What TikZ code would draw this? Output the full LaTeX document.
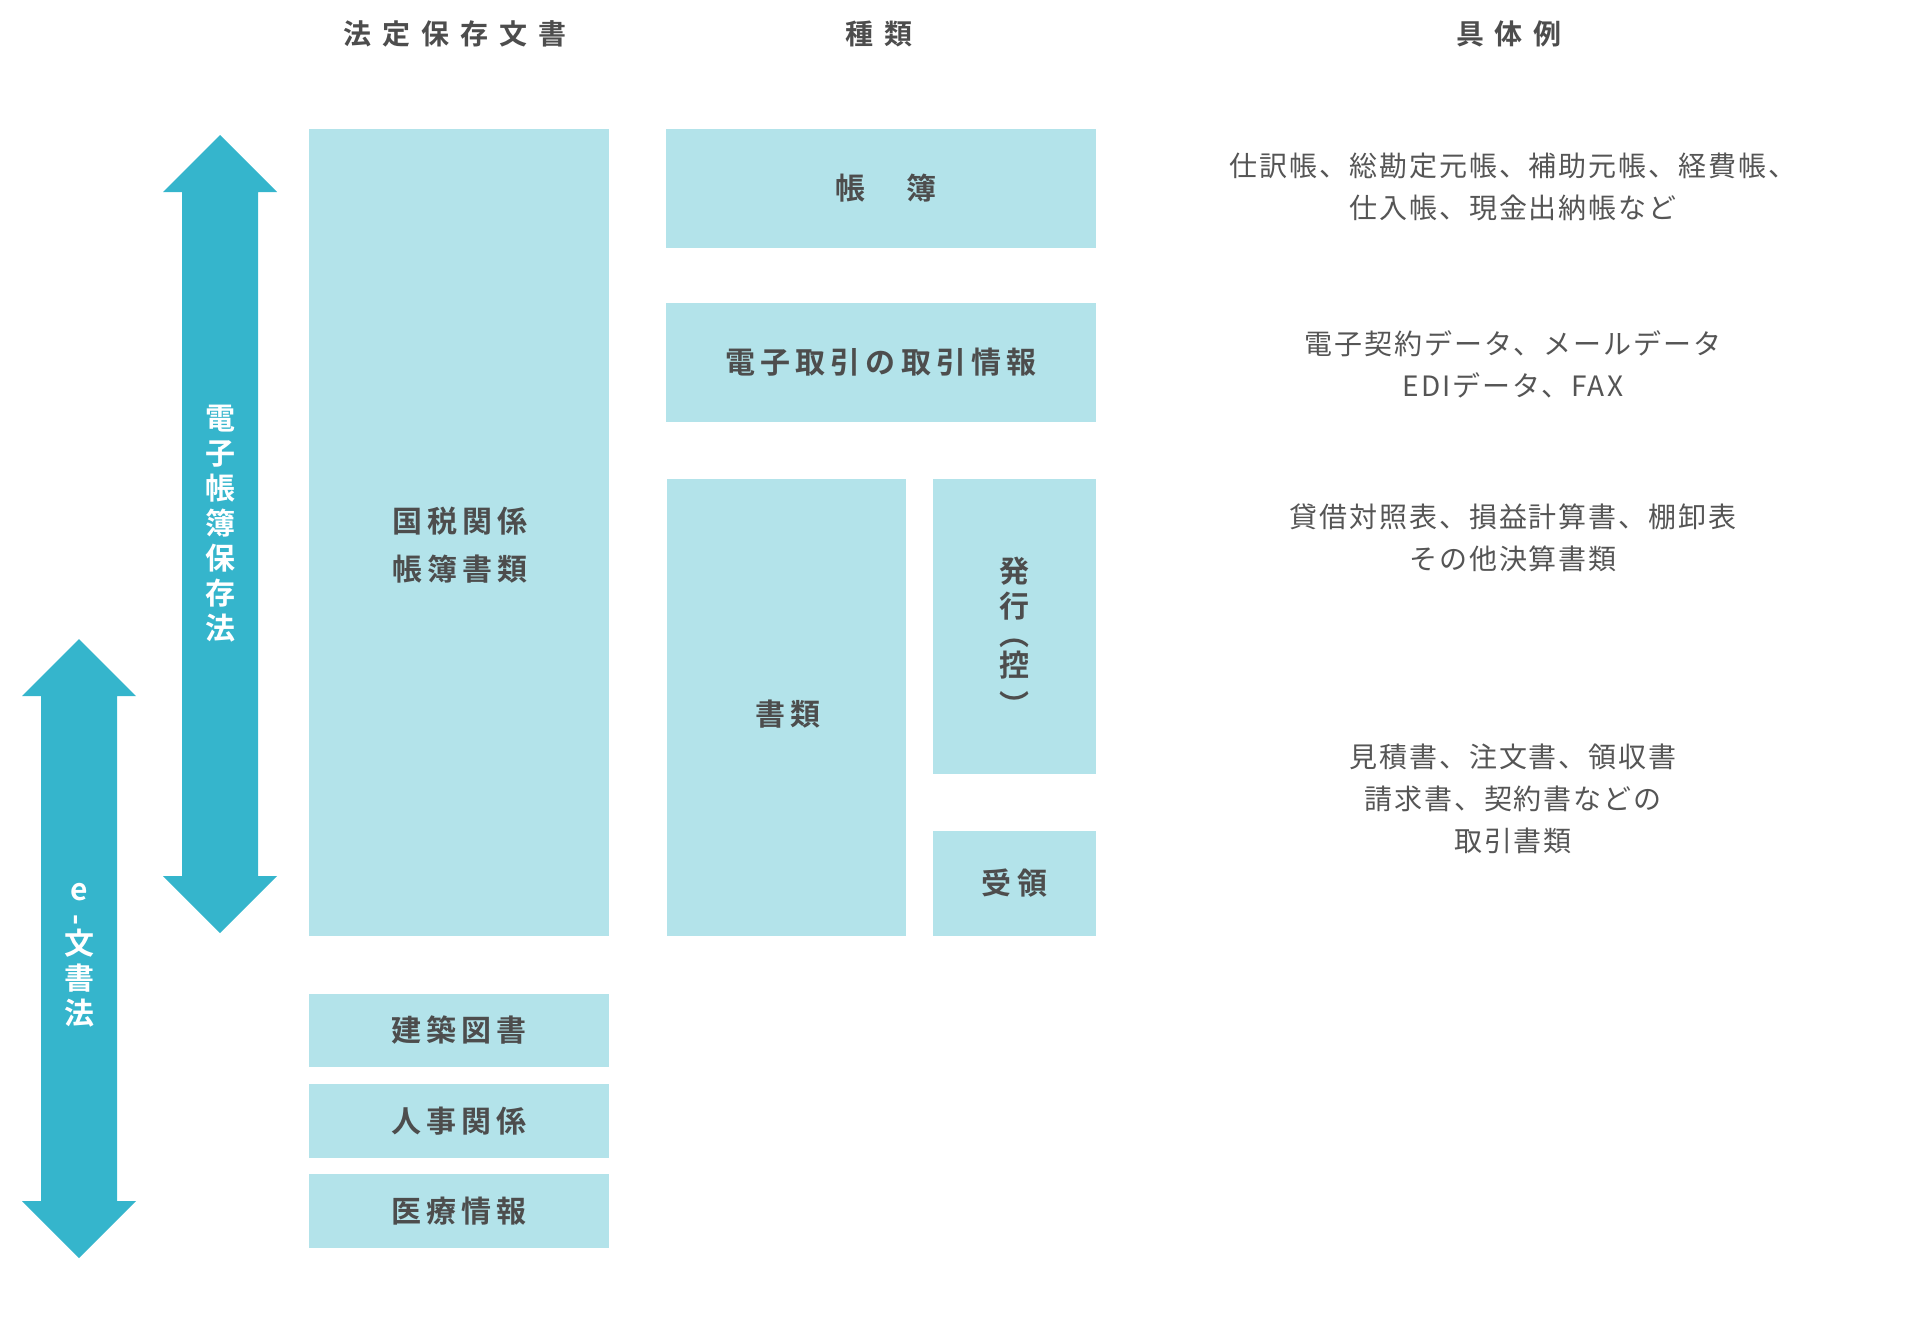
\documentclass[tikz,border=0pt]{standalone}
\usepackage{fontspec}
\usepackage{graphicx}
\setmainfont{Noto Sans CJK JP}[BoldFont={* Bold}]
\newfontfamily\headfont{Noto Sans CJK JP}[UprightFont={* Bold},LetterSpace=39]
\newfontfamily\labelfont{Noto Sans CJK JP}[UprightFont={* Bold},LetterSpace=17]
\newfontfamily\lawfont{Noto Sans CJK JP}[UprightFont={* Bold}]
\newfontfamily\examplefont{Noto Sans CJK JP}[LetterSpace=7]
\usetikzlibrary{positioning}
\definecolor{lawblue}{HTML}{35B5CC}
\definecolor{boxblue}{HTML}{B3E3EA}
\definecolor{inkgray}{HTML}{4D4D4D}
\definecolor{examplegray}{HTML}{555555}

\begin{document}
\begin{tikzpicture}[x=0.5pt,y=-0.5pt,
  box/.style={fill=boxblue,inner sep=0pt,outer sep=0pt,anchor=north west,text=inkgray,
    font=\labelfont\fontsize{15}{24}\selectfont,align=center},
  boxlabel/.style={text=inkgray,font=\labelfont\fontsize{15}{24}\selectfont,align=center},
  head/.style={text=inkgray,font=\headfont\fontsize{14}{16}\selectfont},
  example/.style={text=examplegray,font=\examplefont\fontsize{14}{21}\selectfont,align=center},
  lawtext/.style={text=white,font=\lawfont\fontsize{15}{17.5}\selectfont,align=center},
  lawarrow/.style={fill=lawblue}]
\useasboundingbox (0,0) rectangle (1905,1317);

\node[head] (hoteihead) at (455,34) {法定保存文書};
\node[head] (shuruihead) at (879,34) {種類};
\node[head] (guraihead) at (1509,34) {具体例};

\foreach \ax/\atip/\abot in {220/135/933, 79/639/1258}
  \fill[lawarrow] (\ax,\atip) -- ++(57,57) -- ++(-19,0) -- (\ax+38,\abot-57) -- ++(19,0)
    -- (\ax,\abot) -- ++(-57,-57) -- ++(19,0) -- (\ax-38,\atip+57) -- ++(-19,0) -- cycle;
\node[lawtext] (denshi) at (220,524) {電\\子\\帳\\簿\\保\\存\\法};
\node[lawtext] (ebunsho) at (79,955) {e\\[-5pt]\rotatebox[origin=c]{90}{-}\\[-3pt]文\\書\\法};

\node[box,minimum width=150pt,minimum height=403.5pt] (kokuzei) at (309,129) {};
\node[boxlabel] (kokuzeilbl) at (460,545) {国税関係\\帳簿書類};
\node[box,minimum width=150pt,minimum height=36.5pt] (kenchiku) at (309,994) {建築図書};
\node[box,minimum width=150pt,minimum height=37pt] (jinji) at (309,1084) {人事関係};
\node[box,minimum width=150pt,minimum height=37pt] (iryou) at (309,1174) {医療情報};

\node[box,minimum width=215pt,minimum height=59.5pt] (choubo) at (666,129) {};
\node[boxlabel] (choubolbl) at (886,188) {帳　簿};
\node[box,minimum width=215pt,minimum height=59.5pt] (torihiki) at (666,303) {電子取引の取引情報};
\node[box,minimum width=119.5pt,minimum height=228.5pt] (shorui) at (667,479) {};
\node[boxlabel] (shoruilbl) at (788,714) {書類};
\node[box,minimum width=81.5pt,minimum height=147.5pt] (hakkou) at (933,479) {};
\node[boxlabel,font=\labelfont\fontsize{15}{17.5}\selectfont] (hakkoulbl) at (1014,637)
  {発\\行\\[-3.5pt]︵\\[-2pt]控\\[2.5pt]︶};
\node[box,minimum width=81.5pt,minimum height=52.5pt] (juryou) at (933,831) {受領};

\node[example] (chouboex) at (1513,187) {仕訳帳、総勘定元帳、補助元帳、経費帳、\\仕入帳、現金出納帳など};
\node[example] (torihikiex) at (1513,364) {電子契約データ、メールデータ\\EDIデータ、FAX};
\node[example] (kessanex) at (1513,538) {貸借対照表、損益計算書、棚卸表\\その他決算書類};
\node[example] (shoruiex) at (1513,799) {見積書、注文書、領収書\\請求書、契約書などの\\取引書類};
\end{tikzpicture}
\end{document}
